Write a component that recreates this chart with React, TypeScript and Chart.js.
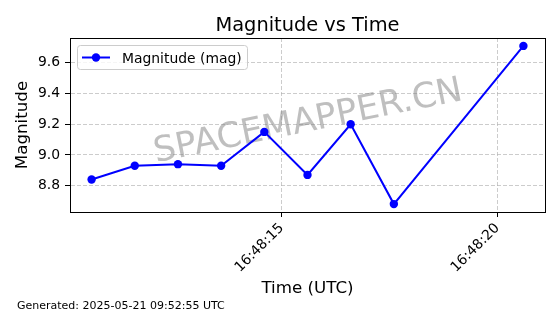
import React, { useEffect, useRef } from "react";
import { Chart, registerables } from "chart.js";

Chart.register(...registerables);

const TITLE = "Magnitude vs Time";
const X_TITLE = "Time (UTC)";
const Y_TITLE = "Magnitude";
const SERIES_LABEL = "Magnitude (mag)";
const FOOTER = "Generated: 2025-05-21 09:52:55 UTC";
const WATERMARK = "SPACEMAPPER.CN";
const TIME_PREFIX = "16:48:";

// seconds after 16:48:00 UTC
const timeSeconds = [10.6, 11.6, 12.6, 13.6, 14.6, 15.6, 16.6, 17.6, 20.6];
const magnitudes = [8.84, 8.93, 8.94, 8.93, 9.15, 8.87, 9.2, 8.68, 9.71];
const xTickSeconds = [15, 20];
const yTicks = [8.8, 9.0, 9.2, 9.4, 9.6];

const FONT = "'DejaVu Sans', 'Liberation Sans', sans-serif";
const BLUE = "#0000ff";
const GRID = "rgba(176,176,176,0.65)";

function pad2(v: number) {
  const s = Math.round(v).toString();
  return s.length < 2 ? "0" + s : s;
}

function withMargin(arr: number[], frac: number) {
  const lo = Math.min(...arr);
  const hi = Math.max(...arr);
  const m = (hi - lo) * frac;
  return [lo - m, hi + m];
}

const decorPlugin = {
  id: "decor",
  beforeDatasetsDraw(chart: any) {
    const { ctx, chartArea } = chart;
    const cx = (chartArea.left + chartArea.right) / 2;
    const cy = (chartArea.top + chartArea.bottom) / 2 - 6.5;
    const size = 35;
    ctx.save();
    ctx.translate(cx, cy);
    ctx.rotate((-11.5 * Math.PI) / 180);
    ctx.font = `${size}px ${FONT}`;
    ctx.fillStyle = "rgba(128,128,128,0.5)";
    ctx.textAlign = "center";
    ctx.textBaseline = "alphabetic";
    ctx.fillText(WATERMARK, 0, size * 0.3645);
    ctx.restore();
  },
  afterDraw(chart: any) {
    const { ctx, chartArea } = chart;
    const { left, right, top, bottom } = chartArea;
    ctx.save();
    // top and right spines
    ctx.strokeStyle = "#000";
    ctx.lineWidth = 1;
    ctx.setLineDash([]);
    ctx.beginPath();
    ctx.moveTo(left, top + 0.5);
    ctx.lineTo(right + 1, top + 0.5);
    ctx.moveTo(right + 0.5, top);
    ctx.lineTo(right + 0.5, bottom + 1);
    ctx.stroke();

    // legend
    const bx = left + 7.5;
    const by = top + 7.5;
    const bw = 170;
    const bh = 24;
    ctx.beginPath();
    ctx.roundRect(bx, by, bw, bh, 3);
    ctx.fillStyle = "rgba(255,255,255,0.8)";
    ctx.fill();
    ctx.strokeStyle = "#cccccc";
    ctx.stroke();
    const ly = by + 12;
    ctx.beginPath();
    ctx.strokeStyle = BLUE;
    ctx.lineWidth = 2;
    ctx.moveTo(bx + 4.5, ly);
    ctx.lineTo(bx + 32.5, ly);
    ctx.stroke();
    ctx.beginPath();
    ctx.fillStyle = BLUE;
    ctx.arc(bx + 18.5, ly, 4.2, 0, Math.PI * 2);
    ctx.fill();
    ctx.fillStyle = "#000";
    ctx.font = `13.9px ${FONT}`;
    ctx.textAlign = "left";
    ctx.textBaseline = "alphabetic";
    ctx.fillText(SERIES_LABEL, bx + 44.5, ly + 5);

    // title
    ctx.font = `19.4px ${FONT}`;
    ctx.textAlign = "center";
    ctx.fillText(TITLE, (left + right) / 2, 31);

    // footer
    ctx.font = `11px ${FONT}`;
    ctx.textAlign = "left";
    ctx.fillText(FOOTER, 17, 309);
    ctx.restore();
  },
};

export default function App() {
  const ref = useRef<HTMLCanvasElement | null>(null);

  useEffect(() => {
    if (!ref.current) return;
    const [xMin, xMax] = withMargin(timeSeconds, 0.05);
    const [yMin, yMax] = withMargin(magnitudes, 0.05);
    const data = timeSeconds.map((t, i) => ({ x: t, y: magnitudes[i] }));

    const chart = new Chart(ref.current, {
      type: "line",
      data: {
        datasets: [
          {
            label: SERIES_LABEL,
            data,
            borderColor: BLUE,
            backgroundColor: BLUE,
            borderWidth: 2,
            pointRadius: 4.2,
            pointHoverRadius: 4.2,
            pointBackgroundColor: BLUE,
            pointBorderWidth: 0,
            tension: 0,
            fill: false,
          },
        ],
      },
      options: {
        animation: false,
        responsive: false,
        events: [],
        layout: { padding: { top: 38, right: 15, left: 0, bottom: 0 } },
        plugins: {
          legend: { display: false },
          title: { display: false },
          tooltip: { enabled: false },
        },
        scales: {
          x: {
            type: "linear",
            min: xMin,
            max: xMax,
            afterBuildTicks: (scale: any) => {
              scale.ticks = xTickSeconds.map((v) => ({ value: v }));
            },
            afterFit: (scale: any) => {
              scale.height = 102;
            },
            ticks: {
              autoSkip: false,
              minRotation: 45,
              maxRotation: 45,
              padding: 3,
              color: "#000",
              font: { family: FONT, size: 13.9 },
              callback: (v: any) => TIME_PREFIX + pad2(Number(v)),
            },
            grid: {
              color: GRID,
              lineWidth: 1,
              tickLength: 5,
              tickColor: "#000",
              tickWidth: 1,
              tickBorderDash: [],
            },
            border: { display: true, color: "#000", width: 1, dash: [4, 2] },
            title: {
              display: true,
              text: X_TITLE,
              color: "#000",
              font: { family: FONT, size: 16.7, lineHeight: 1.2 },
              padding: { top: 0, bottom: 15 },
            },
          },
          y: {
            type: "linear",
            min: yMin,
            max: yMax,
            afterBuildTicks: (scale: any) => {
              scale.ticks = yTicks.map((v) => ({ value: v }));
            },
            afterFit: (scale: any) => {
              scale.width = 70;
            },
            ticks: {
              padding: 5,
              color: "#000",
              font: { family: FONT, size: 13.9 },
              callback: (v: any) => Number(v).toFixed(1),
            },
            grid: {
              color: GRID,
              lineWidth: 1,
              tickLength: 5,
              tickColor: "#000",
              tickWidth: 1,
              tickBorderDash: [],
            },
            border: { display: true, color: "#000", width: 1, dash: [4, 2] },
            title: {
              display: true,
              text: Y_TITLE,
              color: "#000",
              font: { family: FONT, size: 16.7, lineHeight: 1.2 },
              padding: { top: 13, bottom: 0 },
            },
          },
        },
      },
      plugins: [decorPlugin],
    } as any);

    return () => chart.destroy();
  }, []);

  return (
    <div style={{ position: "fixed", left: 0, top: 0, width: 560, height: 314, background: "#fff" }}>
      <canvas ref={ref} width={560} height={314} style={{ display: "block" }} />
    </div>
  );
}
